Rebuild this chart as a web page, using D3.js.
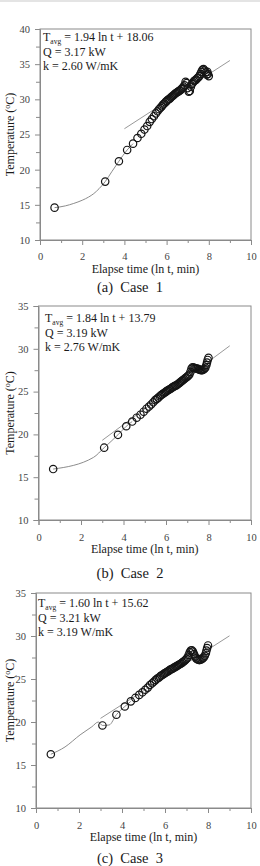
<!DOCTYPE html>
<html>
<head>
<meta charset="utf-8">
<script src="https://cdn.jsdelivr.net/npm/d3@7"></script>
<style>
  html, body { margin: 0; padding: 0; background: #fff; }
  svg { display: block; }
</style>
</head>
<body>
<svg id="chart" width="260" height="866"></svg>
<script>
// ---------------- DATA ----------------
const xTicks = [0, 2, 4, 6, 8, 10];
const xMinorTicks = [1, 3, 5, 7, 9];
const yTicksCase1 = [10, 15, 20, 25, 30, 35, 40];
const yTicksCase23 = [10, 15, 20, 25, 30, 35];

// elapsed time, ln t (t in min)
const lnTime = [0.69,3.09,3.74,4.13,4.41,4.62,4.80,4.95,5.08,5.20,5.30,5.40,5.49,5.57,5.64,5.71,5.77,5.83,5.89,5.95,6.00,
  6.05,6.10,6.15,6.20,6.25,6.30,6.35,6.40,6.45,6.50,6.55,6.60,6.65,6.70,6.75,6.80,
  6.85,6.90,6.95,7.00,7.05,7.10,7.15,7.20,7.25,
  7.30,7.35,7.40,7.45,7.50,7.55,7.60,7.65,7.70,7.75,7.80,7.85,7.90,
  7.93,7.96,8.00];

const case1Temp = [14.6,18.3,21.2,22.8,23.7,24.5,25.1,25.7,26.2,26.8,27.2,27.6,28.0,28.3,28.6,28.8,29.0,29.25,29.4,29.6,29.75,
  29.9,30.0,30.1,30.25,30.4,30.5,30.65,30.8,30.9,31.0,31.1,31.2,31.3,31.45,31.6,31.8,
  32.0,32.5,32.3,31.6,31.1,31.2,31.8,32.2,32.4,
  32.6,32.7,32.8,33.0,33.1,33.3,33.6,33.9,34.2,34.3,34.1,33.8,33.5,
  33.9,33.6,33.3];

const case2Temp = [15.95,18.45,19.95,20.95,21.5,21.95,22.3,22.65,23.0,23.25,23.5,23.75,24.0,24.15,24.3,24.45,24.6,24.7,24.8,24.9,25.0,
  25.1,25.15,25.25,25.3,25.4,25.5,25.55,25.65,25.7,25.75,25.85,25.95,26.05,26.15,26.25,26.35,
  26.45,26.55,26.65,26.75,26.85,27.0,27.3,27.7,27.85,
  27.8,27.75,27.7,27.7,27.65,27.6,27.55,27.5,27.5,27.55,27.65,27.8,28.1,
  28.4,28.7,28.95];

const case3Temp = [16.25,19.6,20.85,21.8,22.4,22.8,23.15,23.45,23.75,24.0,24.3,24.5,24.7,24.9,25.05,25.15,25.3,25.4,25.5,25.6,25.7,
  25.75,25.85,25.9,26.0,26.1,26.15,26.2,26.3,26.35,26.45,26.5,26.6,26.65,26.75,26.8,26.9,
  27.0,27.1,27.2,27.35,27.5,27.8,28.1,28.3,28.35,
  28.2,27.9,27.6,27.4,27.3,27.25,27.2,27.25,27.3,27.4,27.5,27.7,28.0,
  28.3,28.6,28.9];

// continuous (raw) record, early part
const case1RawLn = [0.69,1.2,1.6,2.0,2.3,2.55,2.8,3.09,3.4,3.74,4.13,4.41];
const case1RawTemp = [14.6,14.85,15.2,15.65,16.1,16.6,17.3,18.3,19.7,21.2,22.8,23.7];
const case2RawLn = [0.69,2.58,3.09,3.74,4.13,4.41];
const case2RawTemp = [15.95,17.3,18.45,19.95,20.95,21.5];
const case3RawLn = [0.69,1.35,2.05,2.6,2.9,3.09,3.4,3.74,4.13,4.41];
const case3RawTemp = [16.25,17.1,18.5,19.45,20.0,19.6,19.65,20.85,21.8,22.4];

// regression lines  T = a ln t + b
const fitSlope = [1.94, 1.84, 1.60];
const fitIntercept = [18.06, 13.79, 15.62];
const fitStart = [4, 3, 3];
const fitEnd = [9, 9, 9];
const heatRate = ["3.17", "3.19", "3.21"];
const conductivity = ["2.60", "2.76", "3.19"];
const interceptText = ["18.06", "13.79", "15.62"];
const slopeText = ["1.94", "1.84", "1.60"];
const captions = ["(a)  Case  1", "(b)  Case  2", "(c)  Case  3"];
const xTitle = "Elapse time (ln t, min)";

// ---------------- DRAW ----------------
const svg = d3.select("#chart");
const FONT = "'Liberation Serif', 'Times New Roman', serif";

svg.append("rect").attr("x", 0).attr("y", 0).attr("width", 260).attr("height", 2).attr("fill", "#e4e4e4");

const panels = [
  { temp: case1Temp, rawLn: case1RawLn, rawT: case1RawTemp, yMax: 40, yTicks: yTicksCase1,
    left: 40, right: 251, top: 29, bottom: 240, textX: 43, textY: 41, tickLab: 260.5, titleY: 273, capY: 292 },
  { temp: case2Temp, rawLn: case2RawLn, rawT: case2RawTemp, yMax: 35, yTicks: yTicksCase23,
    left: 38.5, right: 251, top: 306, bottom: 520, textX: 45, textY: 322, tickLab: 541, titleY: 553, capY: 578 },
  { temp: case3Temp, rawLn: case3RawLn, rawT: case3RawTemp, yMax: 35, yTicks: yTicksCase23,
    left: 36, right: 251, top: 593, bottom: 808, textX: 38, textY: 607, tickLab: 829, titleY: 841, capY: 863 }
];

panels.forEach((p, i) => {
  const g = svg.append("g");
  const x = d3.scaleLinear().domain([0, 10]).range([p.left, p.right]);
  const y = d3.scaleLinear().domain([10, p.yMax]).range([p.bottom, p.top]);

  // frame
  g.append("rect")
    .attr("x", p.left).attr("y", p.top)
    .attr("width", p.right - p.left).attr("height", p.bottom - p.top)
    .attr("fill", "none").attr("stroke", "#8a8a8a").attr("stroke-width", 1);

  // x axis
  g.append("g").attr("transform", `translate(0,${p.bottom})`)
    .call(d3.axisBottom(x).tickValues(xTicks).tickSize(5).tickPadding(p.tickLab - p.bottom - 12.5).tickFormat(d3.format("d")));
  g.append("g").attr("transform", `translate(0,${p.bottom})`)
    .call(d3.axisBottom(x).tickValues(xMinorTicks).tickSize(3).tickFormat(""))
    .select(".domain").remove();

  // y axis
  g.append("g").attr("transform", `translate(${p.left},0)`)
    .call(d3.axisLeft(y).tickValues(p.yTicks).tickSize(5).tickPadding(5).tickFormat(d3.format("d")));
  const yMinor = p.yTicks.slice(0, -1).map(v => v + 2.5);
  g.append("g").attr("transform", `translate(${p.left},0)`)
    .call(d3.axisLeft(y).tickValues(yMinor).tickSize(4).tickFormat(""))
    .select(".domain").remove();

  g.selectAll(".domain").attr("stroke", "#8a8a8a");
  g.selectAll(".tick line").attr("stroke", "#8a8a8a");
  g.selectAll(".tick text").attr("fill", "#444").attr("font-family", FONT).attr("font-size", "10.5px");

  // raw line
  const line = d3.line().x(d => x(d[0])).y(d => y(d[1])).curve(d3.curveMonotoneX);
  g.append("path")
    .datum(p.rawLn.map((v, k) => [v, p.rawT[k]]))
    .attr("d", line).attr("fill", "none").attr("stroke", "#8c8c8c").attr("stroke-width", 1);

  // fit line
  g.append("line")
    .attr("x1", x(fitStart[i])).attr("y1", y(fitSlope[i] * fitStart[i] + fitIntercept[i]))
    .attr("x2", x(fitEnd[i])).attr("y2", y(fitSlope[i] * fitEnd[i] + fitIntercept[i]))
    .attr("stroke", "#8c8c8c").attr("stroke-width", 0.9);

  // circles
  g.append("g").selectAll("circle")
    .data(lnTime.map((v, k) => [v, p.temp[k]]))
    .join("circle")
    .attr("cx", d => x(d[0])).attr("cy", d => y(d[1])).attr("r", 3.7)
    .attr("fill", "none").attr("stroke", "#151515").attr("stroke-width", 1.2);

  // annotation
  const t = g.append("g").attr("font-family", FONT).attr("font-size", "12px").attr("fill", "#1a1a1a");
  const l1 = t.append("text").attr("x", p.textX).attr("y", p.textY);
  l1.append("tspan").text("T");
  l1.append("tspan").attr("font-size", "7.5px").attr("dy", 2.5).text("avg");
  l1.append("tspan").attr("dy", -2.5).text(` = ${slopeText[i]} ln t + ${interceptText[i]}`);
  t.append("text").attr("x", p.textX).attr("y", p.textY + 14.5).text(`Q = ${heatRate[i]} kW`);
  t.append("text").attr("x", p.textX).attr("y", p.textY + 29).text(`k = ${conductivity[i]} W/mK`);

  // y title
  const cy = (p.top + p.bottom) / 2;
  const yt = g.append("text")
    .attr("transform", `translate(${14},${cy}) rotate(-90)`)
    .attr("text-anchor", "middle").attr("font-family", FONT).attr("font-size", "12px").attr("fill", "#1a1a1a");
  yt.append("tspan").text("Temperature (");
  yt.append("tspan").attr("font-size", "8px").attr("dy", -4).text("o");
  yt.append("tspan").attr("dy", 4).text("C)");

  // x title
  g.append("text").attr("x", (p.left + p.right) / 2).attr("y", p.titleY)
    .attr("text-anchor", "middle").attr("font-family", FONT).attr("font-size", "12px").attr("fill", "#1a1a1a")
    .text(xTitle);

  // caption
  g.append("text").attr("x", 130).attr("y", p.capY)
    .attr("text-anchor", "middle").attr("font-family", FONT).attr("font-size", "14.5px").attr("fill", "#1a1a1a")
    .attr("xml:space", "preserve").style("white-space", "pre")
    .text(captions[i]);
});
</script>
</body>
</html>
